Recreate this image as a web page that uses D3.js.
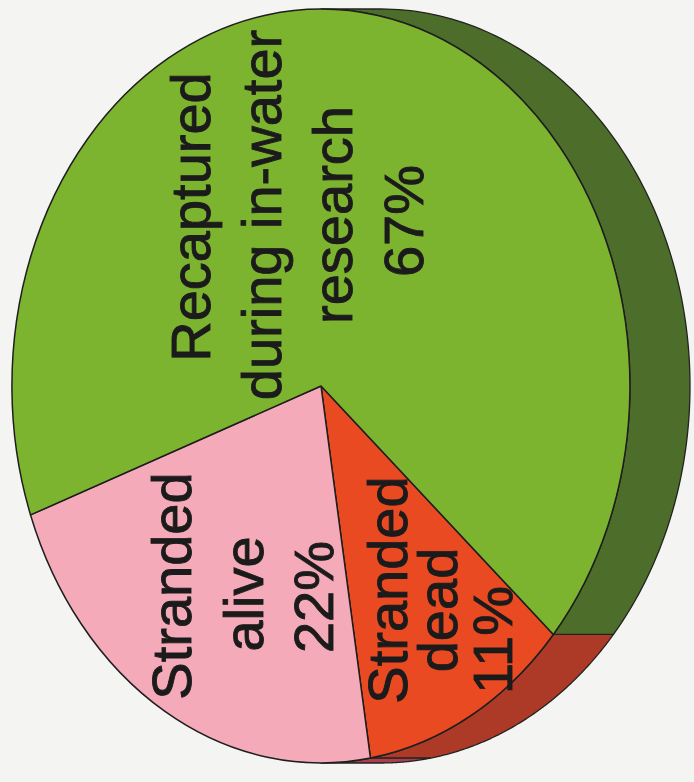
<!DOCTYPE html>
<html>
<head>
<meta charset="utf-8">
<script src="https://cdn.jsdelivr.net/npm/d3@7"></script>
<style>
  html, body { margin: 0; padding: 0; background: #f4f4f2; }
  svg { display: block; }
  text { font-family: "Liberation Sans", Arial, Helvetica, sans-serif; }
</style>
</head>
<body>
<svg id="chart" width="694" height="782"></svg>
<script>
// ---- data ----
const categories = ["Stranded dead", "Stranded alive", "Recaptured during in-water research"];
const values = [11, 22, 67];
const labelLines = [
  ["Stranded", "dead", "11%"],
  ["Stranded", "alive", "22%"],
  ["Recaptured", "during in-water", "research", "67%"]
];

// ---- styles / layout ----
const topColors = ["#ea4a22", "#f4aab8", "#7db42f"];
const sideColors = ["#ad3a27", "#a8404a", "#4d6e2a"];
// per-line label placement: [baseline x, centre y]
const labelLayout = [
  [[407, 590], [457, 610], [512, 640]],
  [[191, 586], [263, 594], [333, 597]],
  [[210, 217], [281, 215], [352, 215], [423, 221]]
];
const W = 694, H = 782;
const cx = 321, cy = 386, rx = 309, ry = 377, depth = 60;
const startDeg = 131.2;

const svg = d3.select("#chart");
svg.append("rect").attr("width", W).attr("height", H).attr("fill", "#f4f4f2");

const pie = d3.pie().sort(null)
  .startAngle(startDeg * Math.PI / 180)
  .endAngle(startDeg * Math.PI / 180 + 2 * Math.PI);
const arcs = pie(values);

// point on ellipse for d3 angle (0 = top, clockwise)
const px = (a, off) => cx + off + rx * Math.sin(a);
const py = a => cy - ry * Math.cos(a);
const line = d3.line().x(d => d[0]).y(d => d[1]);

// ---- side (extrusion to the right) ----
const sideG = svg.append("g");
arcs.forEach((d, i) => {
  const windows = [[0, Math.PI], [2 * Math.PI, 3 * Math.PI]];
  windows.forEach(([w0, w1]) => {
    const a0 = Math.max(d.startAngle, w0), a1 = Math.min(d.endAngle, w1);
    if (a1 <= a0) return;
    const n = 120;
    const pts = [];
    for (let k = 0; k <= n; k++) { const a = a0 + (a1 - a0) * k / n; pts.push([px(a, 0), py(a)]); }
    for (let k = n; k >= 0; k--) { const a = a0 + (a1 - a0) * k / n; pts.push([px(a, depth), py(a)]); }
    sideG.append("path")
      .attr("d", line(pts) + "Z")
      .attr("fill", sideColors[i])
      .attr("stroke", "#222")
      .attr("stroke-width", 1.3)
      .attr("stroke-linejoin", "round");
  });
});

// ---- top face ----
const arc = d3.arc().innerRadius(0).outerRadius(1);
const topG = svg.append("g").attr("transform", `translate(${cx},${cy}) scale(${rx},${ry})`);
topG.selectAll("path").data(arcs).join("path")
  .attr("d", arc)
  .attr("fill", (d, i) => topColors[i])
  .attr("stroke", "#1e1e1e")
  .attr("stroke-width", 1.5)
  .attr("stroke-linejoin", "round")
  .attr("vector-effect", "non-scaling-stroke");

// ---- labels (rotated, reading bottom to top) ----
const labG = svg.append("g");
labelLines.forEach((lines, i) => {
  lines.forEach((t, j) => {
    const [bx, my] = labelLayout[i][j];
    labG.append("text")
      .attr("transform", `translate(${bx},${my}) rotate(-90)`)
      .attr("text-anchor", "middle")
      .attr("font-size", 56)
      .attr("fill", "#1b1b1b")
      .attr("stroke", "#1b1b1b")
      .attr("stroke-width", 0.9)
      .text(t);
  });
});
</script>
</body>
</html>
